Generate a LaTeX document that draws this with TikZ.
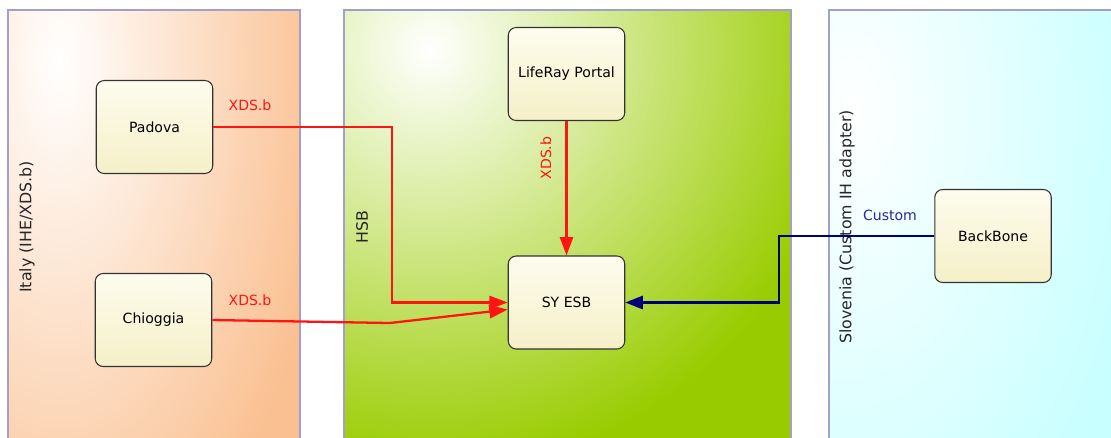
\documentclass[tikz,border=0pt]{standalone}
\usepackage{fontspec}
\setmainfont{DejaVu Sans}
\usetikzlibrary{arrows.meta}

\definecolor{italyorange}{RGB}{250,192,145}
\definecolor{hsbgreen}{RGB}{153,204,0}
\definecolor{slocyan}{RGB}{200,255,255}
\definecolor{lanegray}{RGB}{160,160,200}
\definecolor{boxcream}{RGB}{245,240,200}
\definecolor{boxlight}{RGB}{253,252,238}
\definecolor{xdsred}{RGB}{255,20,20}
\definecolor{customblue}{RGB}{40,40,160}
\definecolor{linknavy}{RGB}{0,0,120}

\tikzset{
	system/.style={draw=black!80, line width=0.6pt, rounded corners=4.5pt,
		top color=boxlight, bottom color=boxcream,
		minimum width=2.33cm, minimum height=1.86cm,
		font=\fontsize{8}{9.6}\selectfont},
	lane/.style={draw=lanegray, line width=0.6pt},
	lanelabel/.style={rotate=90, text=black!85, font=\fontsize{9}{11}\selectfont},
	xds/.style={draw=xdsred, line width=1.3pt,
		-{Triangle[length=10.5pt, width=7.5pt, xdsred]}},
	custom/.style={draw=linknavy, line width=1.3pt,
		-{Triangle[length=10pt, width=7.5pt, linknavy]}},
	msg/.style={font=\fontsize{8}{9.6}\selectfont}
}

\begin{document}
\begin{tikzpicture}[x=0.02cm, y=-0.02cm]
		\clip (0, 0) rectangle (1111, 437);
		\fill[white] (0, 0) rectangle (1111, 437);

		% swimlanes
		\begin{scope}
			\clip (8, 10) rectangle (300, 440);
			\fill[italyorange] (8, 10) rectangle (300, 440);
			\shade[inner color=white, outer color=italyorange] (60, 60) ellipse (270 and 560);
		\end{scope}
		\begin{scope}
			\clip (344, 10) rectangle (791, 440);
			\fill[hsbgreen] (344, 10) rectangle (791, 440);
			\shade[inner color=white, outer color=hsbgreen] (430, 50) circle (420);
		\end{scope}
		\begin{scope}
			\clip (829, 10) rectangle (1111, 440);
			\fill[slocyan] (829, 10) rectangle (1111, 440);
			\shade[inner color=white, outer color=slocyan] (850, 110) ellipse (300 and 520);
		\end{scope}
		\foreach \xa/\xb in {8/300, 344/791, 829/1120}
			\draw[lane] (\xa, 440) -- (\xa, 10) -- (\xb, 10) -- (\xb, 440);

		\node[lanelabel] (italy) at (27, 227) {Italy (IHE/XDS.b)};
		\node[lanelabel] (hsb) at (362, 227) {HSB};
		\node[lanelabel] (slovenia) at (847, 227) {Slovenia (Custom IH adapter)};

		% systems
		\node[system] (padova) at (154.5, 127) {Padova};
		\node[system] (chioggia) at (153.5, 320) {Chioggia};
		\node[system] (liferay) at (566.5, 74) {LifeRay Portal};
		\node[system] (esb) at (566.5, 302.5) {SY ESB};
		\node[system] (backbone) at (993, 236) {BackBone};

		% links
		\draw[xds] (padova.east) -- ++(179, 0) |- (esb.west);
		\draw[xds] (chioggia.east) -- (390, 323) -- ([yshift=-4pt]esb.west);
		\draw[xds] (liferay) -- (esb);
		\draw[custom] (backbone.west) -- ++(-155, 0) |- (esb.east);

		\node[msg, text=xdsred] (lpadova) at (250, 105) {XDS.b};
		\node[msg, text=xdsred] (lchioggia) at (250, 300) {XDS.b};
		\node[msg, text=xdsred, rotate=90] (lliferay) at (546, 158) {XDS.b};
		\node[msg, text=customblue] (lbackbone) at (890, 215) {Custom};
	\end{tikzpicture}
\end{document}
